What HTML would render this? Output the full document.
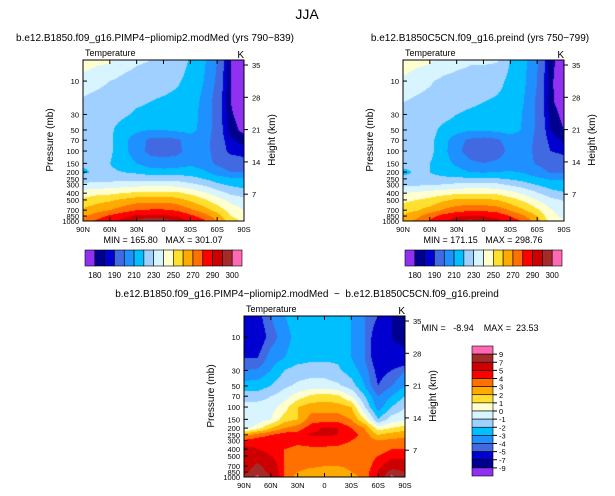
<!DOCTYPE html>
<html><head><meta charset="utf-8"><style>
body{margin:0;background:#fff;width:615px;height:496px;overflow:hidden;font-family:"Liberation Sans",sans-serif}
svg{position:absolute;left:0;top:0}
svg text{white-space:pre}
canvas{position:absolute}
</style></head><body>
<canvas id="c1" width="161" height="161" style="left:83px;top:60px"></canvas>
<canvas id="c2" width="161" height="161" style="left:403px;top:60px"></canvas>
<canvas id="c3" width="161" height="161" style="left:244px;top:316px"></canvas>
<svg id="s" width="615" height="496"></svg>
<script>
const lats=["90N","75N","60N","45N","30N","15N","0","15S","30S","45S","60S","75S","90S"];
const pressures=[5,10,20,30,50,70,100,150,200,250,300,400,500,700,850,1000];
const modelTemp=[
[246,243,242,236,232,230,230,230,218,212,200,180,175],
[236,233,230,227,225,225,225,222,215,210,198,180,175],
[228,226,225,224,222,220,218,216,214,208,195,180,175],
[226,225,224,222,218,216,215,215,214,207,195,181,176],
[225,224,222,215,212,210,210,212,213,207,195,183,178],
[224,224,222,213,205,198,197,198,205,205,195,186,183],
[225,224,222,213,205,197,196,197,205,205,195,188,187],
[222,222,220,215,210,205,204,205,208,205,198,195,193],
[218,222,222,220,218,215,214,215,215,212,205,200,200],
[225,226,226,227,227,227,227,226,224,220,215,212,212],
[232,233,234,235,236,237,237,236,232,228,222,218,216],
[245,247,248,250,252,253,253,252,248,242,235,228,225],
[252,256,258,262,265,266,266,264,258,252,244,237,233],
[262,266,270,275,280,281,281,279,272,265,256,246,240],
[268,275,282,288,292,293,292,290,283,275,265,250,245],
[275,282,288,293,296,299,298,295,290,282,270,255,248]];
const preindTemp=[
[247,244,242,236,233,231,231,231,220,213,201,182,176],
[238,234,231,228,227,227,227,224,217,212,200,181,176],
[230,228,227,226,224,222,220,218,216,210,198,181,177],
[228,227,226,224,220,218,217,217,216,209,198,183,178],
[227,226,224,217,214,211,211,213,214,209,198,185,180],
[225,225,223,214,204,198,196,198,205,206,197,188,184],
[225,224,223,213,203,195,194,195,203,205,197,190,188],
[223,222,220,214,208,202,200,202,205,204,199,196,194],
[218,221,220,217,214,210,209,210,211,209,204,199,199],
[222,222,222,222,222,222,222,221,219,216,212,209,209],
[228,228,229,230,232,233,233,232,228,224,219,215,213],
[240,242,244,246,248,249,249,248,244,238,231,224,221],
[247,250,253,258,262,262,262,260,254,248,240,233,229],
[256,259,264,271,276,278,278,276,269,261,252,241,235],
[261,267,276,284,289,291,290,287,280,271,260,243,238],
[267,272,281,289,294,297,296,293,287,278,265,246,240]];
const diffTemp=[
[-6,-5.5,-4,-3,-2.5,-2.5,-2.5,-2.5,-3,-4,-5,-7,-7.5],
[-6,-6,-4.5,-3.5,-2.5,-2.5,-2.5,-2.5,-3,-4,-6,-7,-7.5],
[-5,-5,-3.5,-3,-2.5,-2.2,-2.2,-2.2,-3,-4,-6,-6.5,-6.5],
[-4,-3.8,-3,-2,-1.5,-1.5,-1.5,-1.8,-2.5,-3.5,-5.5,-5,-4],
[-2.5,-2.5,-2,-1.2,-0.8,-0.5,-0.5,-0.8,-1.5,-3,-5,-4,-3],
[-1.5,-1.5,-1,-0.5,0.5,1.2,1.5,1.2,0,-2,-4,-3,-2],
[-0.5,-0.5,-0.5,0.5,2,2.5,2.5,2.5,2,-1,-3.5,-2,-1],
[-1,-0.5,0,1.5,2,3.5,3.5,3.5,3,1,-2,-0.5,-0.3],
[-0.5,0.5,2,3,3.5,4.5,5.2,5,4,3,0.5,1,1.5],
[2.5,3.5,4,4.5,4.5,5.2,5.2,5,4.5,3.5,2,2.5,2.8],
[4.2,4.5,4.5,4.5,4.2,4.5,4.5,4.3,4,3.5,3,3.2,3.2],
[5.5,5,4.5,4,3.8,3.8,3.8,3.8,3.7,3.5,3.5,4,4],
[5.5,6,5,4,3.5,3.5,3.5,3.5,3.5,3.5,4,4.5,4.5],
[6,7.5,6,4,3.5,3.2,3,3,3.2,3.5,4.5,6,6],
[6.5,8,6.5,4,3,2.5,2.5,2.5,3,3.5,5,8,7],
[7.5,9.5,7,4,2.5,2,2,2,2.5,3.5,5,9.5,7.5]];
const absLevels=[180,185,190,200,210,220,230,240,250,260,270,280,290,295,300];
const absLabels=["180","190","210","230","250","270","290","300"];
const diffLevels=[-9,-7,-5,-4,-3,-2,-1,0,1,2,3,4,5,7,9];
const diffLabels=["9","7","5","4","3","2","1","0","-1","-2","-3","-4","-5","-7","-9"];
const pTicks=[10,30,50,70,100,150,200,250,300,400,500,700,850,1000];
const hTicks=[35,28,21,14,7];
const colors=['#9030f0','#000090','#0000d0','#4169e1','#1e90ff','#00bfff','#a0d0ff','#d8f4ff','#ffffd0','#ffe030','#ffaa00','#ff7000','#ff0000','#cc0000','#a52a2a','#ff69b4'];
const W=161,H=161,L0=Math.log10(5),L1=3;
function yOfP(p){return (Math.log10(p)-L0)/(L1-L0)*H;}
function bin(v,lv){let i=0;while(i<lv.length&&v>=lv[i])i++;return i;}
function sample(d,fx,ly){
  let k=0;const lp=pressures.map(Math.log10);
  while(k<lp.length-2&&ly>lp[k+1])k++;
  let t=(ly-lp[k])/(lp[k+1]-lp[k]);t=Math.max(0,Math.min(1,t));
  const j=Math.min(11,Math.floor(fx));const u=fx-j;
  const a=d[k][j]*(1-u)+d[k][j+1]*u,b=d[k+1][j]*(1-u)+d[k+1][j+1]*u;
  return a*(1-t)+b*t;
}
function draw(id,d,lv){
  const ctx=document.getElementById(id).getContext('2d');
  for(let y=0;y<H;y++){const ly=L0+(y+0.5)/H*(L1-L0);
    for(let x=0;x<W;x++){const fx=(x+0.5)/W*12;
      ctx.fillStyle=colors[bin(sample(d,fx,ly),lv)];ctx.fillRect(x,y,1,1);}}
}
draw('c1',modelTemp,absLevels);draw('c2',preindTemp,absLevels);draw('c3',diffTemp,diffLevels);
const s=document.getElementById('s');const NS='http://www.w3.org/2000/svg';
function el(tag,at,txt){const e=document.createElementNS(NS,tag);for(const k in at)e.setAttribute(k,at[k]);if(txt!=null)e.textContent=txt;s.appendChild(e);return e;}
function t(x,y,str,sz,anc,name){const e=el('text',{x:x,y:y,'font-size':sz,'text-anchor':anc||'start',fill:'#000'},str);

return e;}
t(307,19,'JJA',14,'middle','main-title');
function panel(ox,oy,title,tx,minmax,mmx,mmy,pre){
  t(tx,41+(oy-60),title,10,'middle',pre+'-title');
  t(ox+2,oy-4,'Temperature',9,'start',pre+'-variable-label');
  t(ox+W,oy-2,'K',10,'end',pre+'-units-label');
  const r=el('rect',{x:ox,y:oy,width:W,height:H,fill:'none',stroke:'#000','stroke-width':1});
  
  
  pTicks.forEach(p=>{const y=oy+yOfP(p);el('line',{x1:ox,x2:ox+4,y1:y,y2:y,stroke:'#000'});
    t(ox-4,y+3,String(p),7.5,'end',pre+'-pressure-tick');});
  hTicks.forEach((h,i)=>{const y=oy+5+i*32.3;el('line',{x1:ox+W,x2:ox+W+4,y1:y,y2:y,stroke:'#000'});
    t(ox+W+8,y+3,String(h),7.5,'start',pre+'-height-tick');});
  lats.forEach((la,i)=>{if(i%2)return;const x=ox+i/12*W;el('line',{x1:x,x2:x,y1:oy+H,y2:oy+H-4,stroke:'#000'});
    el('line',{x1:x,x2:x,y1:oy,y2:oy+4,stroke:'#000'});
    t(x,oy+H+11,la,7.5,'middle',pre+'-lat-tick');});
  const a=t(0,0,'Pressure (mb)',10,'middle',pre+'-y-axis-title');a.setAttribute('transform',`translate(${ox-30},${oy+80}) rotate(-90)`);
  const b=t(0,0,'Height (km)',10,'middle',pre+'-right-axis-title');b.setAttribute('transform',`translate(${ox+W+31},${oy+80}) rotate(-90)`);
  t(mmx,mmy,minmax,9,'middle',pre+'-min-max');
}
panel(83,60,'b.e12.B1850.f09_g16.PIMP4−pliomip2.modMed (yrs 790−839)',155,'MIN = 165.80   MAX = 301.07',163,243,'left');
panel(403,60,'b.e12.B1850C5CN.f09_g16.preind (yrs 750−799)',480,'MIN = 171.15   MAX = 298.76',483,243,'right');
panel(244,316,'b.e12.B1850.f09_g16.PIMP4−pliomip2.modMed  −  b.e12.B1850C5CN.f09_g16.preind',307,'MIN =   -8.94    MAX =  23.53',480,331,'diff');
function hbar(ox,pre){const bw=157/16;colors.forEach((c,i)=>{const r=el('rect',{x:ox+i*bw,y:250,width:bw,height:16,fill:c,stroke:'#000','stroke-width':0.6});
  
  });
  absLabels.forEach((l,i)=>t(ox+(2*i+1)*bw,278,l,8,'middle',pre+'-colorbar-label'));}
hbar(85,'left');hbar(405,'right');
const vbh=130/16;
colors.slice().reverse().forEach((c,i)=>{const r=el('rect',{x:472,y:346+i*vbh,width:21,height:vbh,fill:c,stroke:'#000','stroke-width':0.6});

});
diffLabels.forEach((l,i)=>{const y=346+(i+1)*vbh;el('line',{x1:493,x2:497,y1:y,y2:y,stroke:'#000'});t(499,y+3,l,7.5,'start','diff-colorbar-label');});
</script>
</body></html>
